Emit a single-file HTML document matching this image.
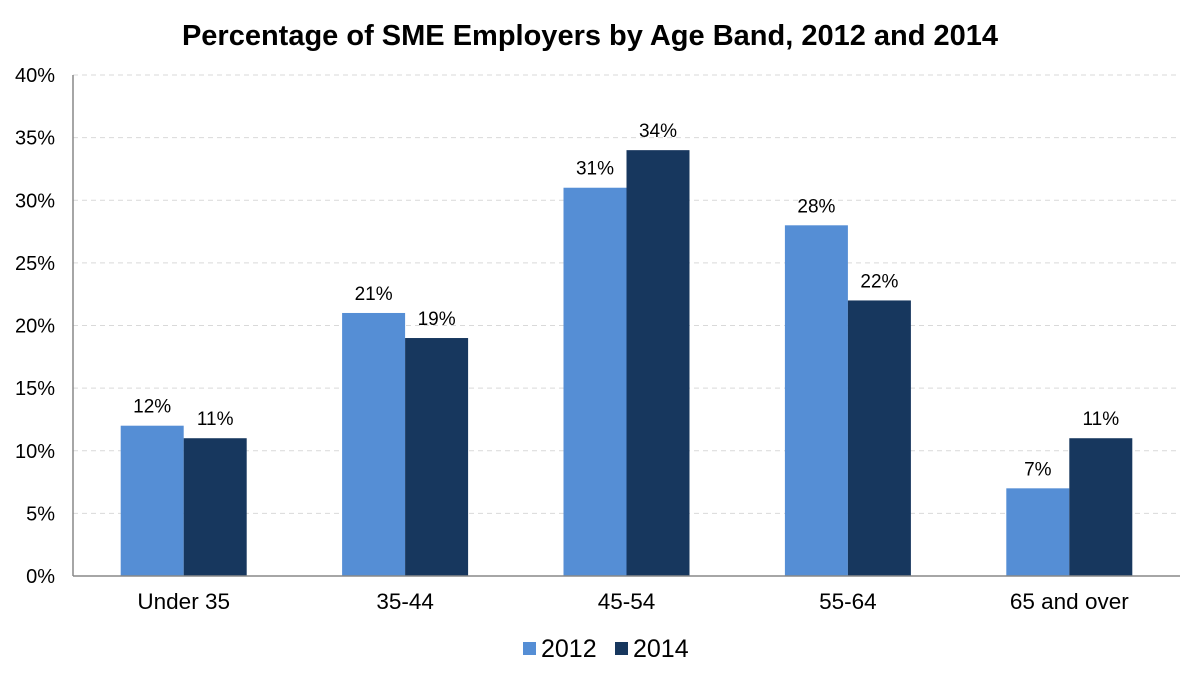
<!DOCTYPE html>
<html><head><meta charset="utf-8"><style>
body{margin:0;background:#fff;}
svg text{font-family:"Liberation Sans",Arial,sans-serif;fill:#000;}
</style></head><body>
<svg id="chart" width="1204" height="681">
<text x="590" y="45" text-anchor="middle" font-size="29" font-weight="bold">Percentage of SME Employers by Age Band, 2012 and 2014</text>
<g id="grid"></g><g id="bars"></g><g id="labels"></g>
<line x1="73" y1="75" x2="73" y2="576" stroke="#888" stroke-width="1.5"/>
<line x1="73" y1="576" x2="1180" y2="576" stroke="#888" stroke-width="1.5"/>
<g>
<rect x="523" y="642" width="13" height="13" fill="#558ed5"/>
<text x="541" y="657" font-size="25">2012</text>
<rect x="615" y="642" width="13" height="13" fill="#17375e"/>
<text x="633" y="657" font-size="25">2014</text>
</g>
</svg>
<script>
const categories=["Under 35","35-44","45-54","55-64","65 and over"];
const values2012=[12,21,31,28,7];
const values2014=[11,19,34,22,11];
const yTicks=[0,5,10,15,20,25,30,35,40];
const NS="http://www.w3.org/2000/svg";
const x0=73,x1=1180,yb=576,yt=75,ymax=40;
const band=(x1-x0)/categories.length;
const y=v=>yb-(v/ymax)*(yb-yt);
const xc=i=>x0+band*(i+0.5);
function mk(tag,attrs,parent){const e=document.createElementNS(NS,tag);for(const k in attrs)e.setAttribute(k,attrs[k]);document.getElementById(parent).appendChild(e);return e;}
yTicks.forEach(t=>{
  if(t>0){const l=mk('line',{x1:x0,x2:x1,y1:y(t),y2:y(t),stroke:'#d9d9d9','stroke-dasharray':'5,4'},'grid');
  
  }
  const tx=mk('text',{x:55,y:y(t)+7,'text-anchor':'end','font-size':'20'},'labels');
  tx.textContent=t+'%';
  
  
});
const bw=63;
categories.forEach((c,i)=>{
  [[values2012,'#558ed5',-bw,'2012'],[values2014,'#17375e',0,'2014']].forEach(([arr,col,off,yr])=>{
    const v=arr[i];
    const r=mk('rect',{x:xc(i)+off,y:y(v),width:bw,height:yb-y(v),fill:col},'bars');
    
    
    const t=mk('text',{x:xc(i)+off+bw/2,y:y(v)-13,'text-anchor':'middle','font-size':'19'},'labels');
    t.textContent=v+'%';
    
    
  });
  const t=mk('text',{x:xc(i),y:609,'text-anchor':'middle','font-size':'22.5'},'labels');
  t.textContent=c;
  
  
});
</script>
</body></html>
